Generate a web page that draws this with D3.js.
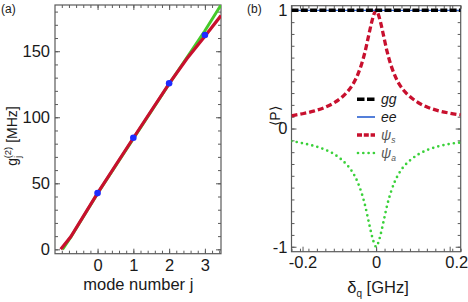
<!DOCTYPE html>
<html><head><meta charset="utf-8">
<script src="https://cdn.jsdelivr.net/npm/d3@7"></script>
<style>
html,body{margin:0;padding:0;background:#fff;}
svg{display:block;font-family:"Liberation Sans",Arial,sans-serif;}
</style></head>
<body>
<svg id="c" width="468" height="302"></svg>
<script>
// ---------- Panel (a) data ----------
const modeJ = [0, 1, 2, 3];
const gPoints = [42.6, 84.5, 125.7, 162.3];
const redJ = [-1.03, -0.75, 0, 1, 2, 2.5, 3, 3.45];
const redG = [0, 9.5, 42.6, 84.3, 125.5, 144.5, 161.3, 177];
const greenJ = [-0.98, -0.75, 0, 1, 2, 3, 3.45];
const greenG = [0, 9.2, 42.3, 83.8, 125.2, 165.5, 185];
const aXTicks = [0, 1, 2, 3];
const aYTicks = [0, 50, 100, 150];

// ---------- Panel (b) data ----------
const delta = [-0.23,-0.2,-0.17,-0.14,-0.115,-0.095,-0.08,-0.065,-0.05,-0.04,-0.03,-0.02,-0.012,-0.006,0,
               0.006,0.012,0.02,0.03,0.04,0.05,0.065,0.08,0.095,0.115,0.14,0.17,0.2,0.23];
const psiS = [0.108,0.125,0.147,0.178,0.216,0.26,0.305,0.365,0.455,0.54,0.65,0.79,0.9,0.965,1.0,
              0.965,0.9,0.79,0.65,0.54,0.455,0.365,0.305,0.262,0.218,0.18,0.15,0.13,0.115];
const psiA = [-0.106,-0.124,-0.146,-0.177,-0.215,-0.26,-0.305,-0.365,-0.455,-0.54,-0.65,-0.79,-0.9,-0.965,-1.0,
              -0.965,-0.9,-0.79,-0.65,-0.54,-0.455,-0.365,-0.305,-0.262,-0.218,-0.18,-0.15,-0.13,-0.118];
const ggVal = [1, 1];
const eeVal = [1, 1];
const bXRange = [-0.23, 0.23];
const bXTicks = [-0.2, 0, 0.2];
const bYTicks = [-1, 0, 1];
const legendNames = ["gg", "ee", "ψ", "ψ"];
const legendSubs = ["", "", "s", "a"];

const svg = d3.select("#c");
const FONT = 16.5;
const frameCol = "#5a5a5a";

function frame(g, x, y, xMajor, xMinor, yMajor, yMinor, xFmt, yFmt, xPad, yPad) {
  const [x0, x1] = x.range(), [y1, y0] = y.range();
  const mk = (axis, tr, len, vals) => {
    const a = g.append("g").attr("transform", tr).call(axis.tickValues(vals).tickSize(len).tickFormat(""));
    a.select(".domain").remove();
    a.selectAll("line").attr("stroke", frameCol).attr("stroke-width", 1);
    return a;
  };
  mk(d3.axisBottom(x), `translate(0,${y1})`, -3, xMinor);
  mk(d3.axisTop(x), `translate(0,${y0})`, -3, xMinor);
  mk(d3.axisLeft(y), `translate(${x0},0)`, -3, yMinor);
  mk(d3.axisRight(y), `translate(${x1},0)`, -3, yMinor);
  mk(d3.axisTop(x), `translate(0,${y0})`, -5, xMajor);
  mk(d3.axisRight(y), `translate(${x1},0)`, -5, yMajor);
  const bx = g.append("g").attr("transform", `translate(0,${y1})`)
    .call(d3.axisBottom(x).tickValues(xMajor).tickSize(-5).tickPadding(xPad).tickFormat(xFmt));
  const by = g.append("g").attr("transform", `translate(${x0},0)`)
    .call(d3.axisLeft(y).tickValues(yMajor).tickSize(-5).tickPadding(yPad).tickFormat(yFmt));
  [bx, by].forEach(a => {
    a.select(".domain").remove();
    a.selectAll("line").attr("stroke", frameCol);
    a.selectAll("text").attr("font-size", FONT).attr("fill", "#1a1a1a")
      .attr("font-family", "Liberation Sans, Arial, sans-serif");
  });
  g.append("rect").attr("x", x0).attr("y", y0).attr("width", x1 - x0).attr("height", y1 - y0)
    .attr("fill", "none").attr("stroke", frameCol).attr("stroke-width", 1.2);
  return {bx, by};
}

// ================= Panel (a) =================
{
  const x = d3.scaleLinear().domain([-1.19, 3.45]).range([55, 221]);
  const y = d3.scaleLinear().domain([-3.3, 185]).range([253.7, 5]);
  const g = svg.append("g");
  svg.append("clipPath").attr("id", "ca").append("rect")
    .attr("x", 55).attr("y", 5).attr("width", 166).attr("height", 248.7);

  const xMinor = d3.range(-5, 18).map(i => i * 0.2).filter(v => v >= -1.19 && v <= 3.45);
  const yMinor = d3.range(0, 19).map(i => i * 10);
  frame(g, x, y, aXTicks, xMinor, aYTicks, yMinor, d3.format("d"), d3.format("d"), 6, 5);

  const line = d3.line().x(d => x(d[0])).y(d => y(d[1]));
  const pg = g.append("g").attr("clip-path", "url(#ca)");
  pg.append("path").datum(greenJ.map((j, i) => [j, greenG[i]]))
    .attr("d", line).attr("fill", "none").attr("stroke", "#46c92a").attr("stroke-width", 3);
  pg.append("path").datum(redJ.map((j, i) => [j, redG[i]]))
    .attr("d", line).attr("fill", "none").attr("stroke", "#c8102e").attr("stroke-width", 3.2);
  pg.selectAll("circle").data(modeJ).enter().append("circle")
    .attr("cx", d => x(d)).attr("cy", (d, i) => y(gPoints[i])).attr("r", 3.3).attr("fill", "#1f2bff");

  g.append("text").attr("x", 138.3).attr("y", 290).attr("text-anchor", "middle")
    .attr("font-size", 16.5).attr("fill", "#1a1a1a").text("mode number j");

  const yl = g.append("text").attr("transform", "translate(17,136) rotate(-90)")
    .attr("text-anchor", "middle").attr("font-size", 14).attr("fill", "#1a1a1a");
  yl.append("tspan").text("g");
  yl.append("tspan").attr("font-size", 9.5).attr("dy", 3.5).text("j");
  yl.append("tspan").attr("font-size", 9.5).attr("dx", -2.5).attr("dy", -10).text("(2)");
  yl.append("tspan").attr("dy", 6.5).text(" [MHz]");

  g.append("text").attr("x", 1).attr("y", 12.5).attr("font-size", 12).attr("fill", "#1a1a1a").text("(a)");
}

// ================= Panel (b) =================
{
  const x = d3.scaleLinear().domain(bXRange).range([291.5, 460.7]);
  const y = d3.scaleLinear().domain([-1.042, 1.039]).range([251.7, 5.7]);
  const g = svg.append("g");
  svg.append("clipPath").attr("id", "cb").append("rect")
    .attr("x", 291.5).attr("y", 5.7).attr("width", 169.2).attr("height", 246);

  const xMinor = d3.range(-10, 11).map(i => i * 0.023);
  const yMinor = d3.range(-10, 11).map(i => i * 0.1);
  const fmtX = d => d === 0 ? "0" : d3.format(".1f")(d).replace("−", "-");
  const fmtY = d => d === 0 ? "0" : String(d).replace("−", "-");
  const {bx} = frame(g, x, y, bXTicks, xMinor, bYTicks, yMinor, fmtX, fmtY, 5, 4);
  bx.selectAll("text").filter(d => d === 0.2).attr("text-anchor", "end").attr("dx", 18);

  const line = d3.line().x(d => x(d[0])).y(d => y(d[1])).curve(d3.curveMonotoneX);
  const flat = d3.line().x(d => x(d[0])).y(d => y(d[1]));
  const pg = g.append("g").attr("clip-path", "url(#cb)");
  pg.append("path").datum(delta.map((d, i) => [d, psiA[i]])).attr("d", line)
    .attr("fill", "none").attr("stroke", "#3ad13a").attr("stroke-width", 2.7)
    .attr("stroke-linecap", "round").attr("stroke-dasharray", "0 5.3");
  pg.append("path").datum(delta.map((d, i) => [d, psiS[i]])).attr("d", line)
    .attr("fill", "none").attr("stroke", "#c8102e").attr("stroke-width", 3.3)
    .attr("stroke-dasharray", "6 3");
  pg.append("path").datum(bXRange.map((d, i) => [d, eeVal[i]])).attr("d", flat)
    .attr("fill", "none").attr("stroke", "#2a5fd0").attr("stroke-width", 1.3);
  pg.append("path").datum(bXRange.map((d, i) => [d, ggVal[i]])).attr("d", flat)
    .attr("fill", "none").attr("stroke", "#000").attr("stroke-width", 3.4)
    .attr("stroke-dasharray", "7 2.3");

  // legend
  const rows = [99.3, 117, 135, 153];
  const styles = [
    {c: "#000", w: 3.4, da: "7.5 2.5", cap: "butt"},
    {c: "#2a5fd0", w: 1.6, da: null, cap: "butt"},
    {c: "#c8102e", w: 3.3, da: "5 1.8", cap: "butt"},
    {c: "#3ad13a", w: 2.7, da: "0 5.3", cap: "round"}
  ];
  const lg = g.append("g");
  legendNames.forEach((nm, i) => {
    const s = styles[i];
    const x0 = i === 3 ? 358 : 357;
    const l = lg.append("line").attr("x1", x0).attr("x2", 375).attr("y1", rows[i]).attr("y2", rows[i])
      .attr("stroke", s.c).attr("stroke-width", s.w).attr("stroke-linecap", s.cap);
    if (s.da) l.attr("stroke-dasharray", s.da);
    const t = lg.append("text").attr("x", 381).attr("y", rows[i] + 5)
      .attr("font-size", 14).attr("font-style", "italic").attr("fill", i < 2 ? "#1a1a1a" : "#555").text(nm);
    if (legendSubs[i]) t.append("tspan").attr("font-size", 8.5).attr("dy", 3).text(legendSubs[i]);
  });

  const xl = g.append("text").attr("x", 378).attr("y", 293).attr("text-anchor", "middle")
    .attr("font-size", 16.5).attr("fill", "#1a1a1a");
  xl.append("tspan").text("δ");
  xl.append("tspan").attr("font-size", 10).attr("dy", 4).text("q");
  xl.append("tspan").attr("dy", -4).text(" [GHz]");

  g.append("text").attr("transform", "translate(279.5,116) rotate(-90)").attr("text-anchor", "middle")
    .attr("font-size", 14).attr("fill", "#1a1a1a").text("⟨P⟩");

  g.append("text").attr("x", 247).attr("y", 12.5).attr("font-size", 12).attr("fill", "#1a1a1a").text("(b)");
}
</script>
</body></html>
